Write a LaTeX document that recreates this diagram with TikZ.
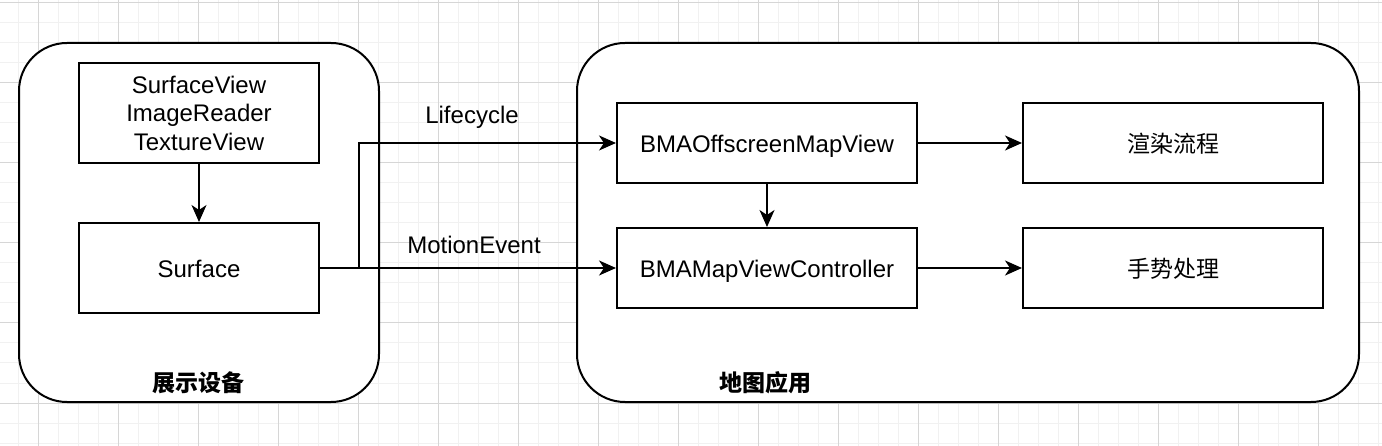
\documentclass[tikz,border=0pt]{standalone}
\usepackage{fontspec}
\setmainfont{Liberation Sans}
\newfontfamily\cjk{Noto Sans CJK SC}
\usetikzlibrary{arrows.meta}
\definecolor{gridminor}{RGB}{241,241,241}
\definecolor{gridmajor}{RGB}{214,214,214}

\begin{document}
\begin{tikzpicture}[x=1pt, y=-1pt,
        container/.style={draw, line width=2pt, fill=white, rounded corners=48pt, minimum width=360pt, minimum height=359pt},
        box/.style={draw, line width=2pt, fill=white, inner sep=0pt, font=\fontsize{24}{28.5}\selectfont},
        classbox/.style={box, minimum width=300pt, minimum height=80pt, text height=18.8pt, text depth=0pt},
        viewbox/.style={box, minimum width=240pt},
        cjkbox/.style={classbox, font=\fontsize{23}{28.5}\selectfont\cjk, text height=18.4pt},
        label/.style={font=\fontsize{24}{28.5}\selectfont, inner sep=0pt, text height=18.8pt, text depth=0pt},
        title/.style={font=\fontsize{23}{28.5}\selectfont\cjk\bfseries, inner sep=0pt},
        arrow/.style={-{Stealth[length=17pt, width=15pt, inset=5pt]}, line width=2pt},
    ]
        % Grid background
        \useasboundingbox (0,0) rectangle (1382,446);
        \fill[white] (0,0) rectangle (1382,446);
        \foreach \gx in {18,38,...,1378}
            \draw[gridminor, line width=1pt] (\gx,0) -- (\gx,446);
        \foreach \gy in {3,23,...,443}
            \draw[gridminor, line width=1pt] (0,\gy) -- (1382,\gy);
        \foreach \gx in {38,118,...,1318}
            \draw[gridmajor, line width=1pt] (\gx,0) -- (\gx,446);
        \foreach \gy in {3,83,...,403}
            \draw[gridmajor, line width=1pt] (0,\gy) -- (1382,\gy);

        % Containers
        \node[container] (device) at (199,222.5) {};
        \node[container, minimum width=782pt] (mapapp) at (968,222.5) {};
        \node[title] (devtitle) at (198,383) {展示设备};
        \node[title] (apptitle) at (765,383) {地图应用};

        % Display device side
        \node[viewbox, minimum height=100pt, align=center] (views) at (199,113) {SurfaceView\\ImageReader\\TextureView};
        \node[viewbox, minimum height=90pt, text height=18.8pt, text depth=0pt] (surf) at (199,268) {Surface};

        % Map app side
        \node[classbox] (offscreen) at (767,143) {BMAOffscreenMapView};
        \node[classbox] (ctrl) at (767,268) {BMAMapViewController};
        \node[cjkbox] (render) at (1173,143) {渲染流程};
        \node[cjkbox] (gesture) at (1173,268) {手势处理};

        % Connectors
        \coordinate (split) at (359,268);
        \draw[arrow] (views) -- (surf);
        \draw[arrow] (surf.east) -- (ctrl.west);
        \draw[arrow] (split) |- (offscreen.west);
        \draw[arrow] (offscreen) -- (ctrl);
        \draw[arrow] (offscreen) -- (render);
        \draw[arrow] (ctrl) -- (gesture);

        % Labels
        \node[label] (lifecycle) at (472,114) {Lifecycle};
        \node[label] (motion) at (474,244) {MotionEvent};
    \end{tikzpicture}
\end{document}
